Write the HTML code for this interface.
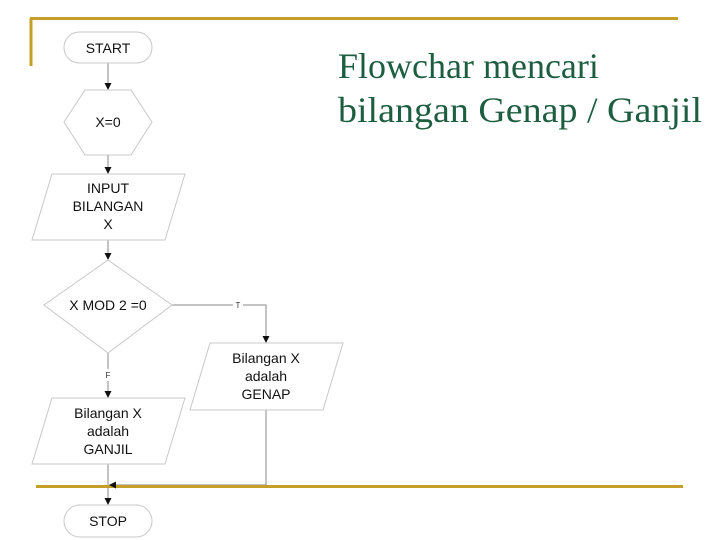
<!DOCTYPE html>
<html><head><meta charset="utf-8"><style>
html,body{margin:0;padding:0;background:#fff;}
svg{display:block;}
.s{fill:#fff;stroke:#c8c8c8;stroke-width:1;}
.l{stroke:#888;stroke-width:1;fill:none;}
.t{font-family:"Liberation Sans",Arial,sans-serif;font-size:14px;fill:#111;text-anchor:middle;}
.a{fill:#111;}
</style></head><body>
<svg width="720" height="540" viewBox="0 0 720 540" xmlns="http://www.w3.org/2000/svg">
<!-- gold decoration -->
<line x1="30" y1="18.5" x2="678" y2="18.5" stroke="#c4a02a" stroke-width="3"/>
<line x1="31" y1="18" x2="31" y2="66" stroke="#c4a02a" stroke-width="3"/>
<!-- title -->
<text x="338" y="78" font-family="'Liberation Serif','Times New Roman',serif" font-size="36" fill="#1e5e40">Flowchar mencari</text>
<text x="338" y="122" font-family="'Liberation Serif','Times New Roman',serif" font-size="36" fill="#1e5e40" textLength="364" lengthAdjust="spacingAndGlyphs">bilangan Genap / Ganjil</text>

<!-- connectors -->
<line class="l" x1="108" y1="63" x2="108" y2="88"/>
<polygon class="a" points="104.5,83 111.5,83 108,90"/>
<line class="l" x1="108" y1="155" x2="108" y2="172"/>
<polygon class="a" points="104.5,167 111.5,167 108,174"/>
<line class="l" x1="108" y1="240" x2="108" y2="258"/>
<polygon class="a" points="104.5,253 111.5,253 108,260"/>
<polyline class="l" points="172,305 266,305 266,341"/>
<polygon class="a" points="262.5,336 269.5,336 266,343"/>
<rect x="233" y="299" width="10" height="12" fill="#fff"/>
<text x="238" y="308" font-family="'Liberation Sans',sans-serif" font-size="8" fill="#333" text-anchor="middle">T</text>
<line class="l" x1="108" y1="353" x2="108" y2="396"/>
<polygon class="a" points="104.5,391 111.5,391 108,398"/>
<rect x="103" y="369" width="10" height="12" fill="#fff"/>
<text x="108" y="378" font-family="'Liberation Sans',sans-serif" font-size="8" fill="#333" text-anchor="middle">F</text>
<line class="l" x1="108" y1="464" x2="108" y2="503"/>
<polygon class="a" points="104.5,498 111.5,498 108,505"/>
<polyline class="l" points="266,410 266,485 110,485"/>

<!-- bottom gold line -->
<line x1="36" y1="486.5" x2="683" y2="486.5" stroke="#c4a02a" stroke-width="3"/>
<polygon class="a" points="109,485 116,481.5 116,488.5"/>

<!-- shapes -->
<rect class="s" x="64" y="32" width="88" height="31" rx="15.5"/>
<text class="t" x="108" y="53">START</text>

<polygon class="s" points="85,90 131,90 152,122 131,155 85,155 64,122"/>
<text class="t" x="108" y="127">X=0</text>

<polygon class="s" points="52,174 185,174 165,240 32,240"/>
<text class="t" x="108" y="193">INPUT</text>
<text class="t" x="108" y="211">BILANGAN</text>
<text class="t" x="108" y="229">X</text>

<polygon class="s" points="108,260 172,305 108,353 44,305"/>
<text class="t" x="108" y="310">X MOD 2 =0</text>

<polygon class="s" points="210,343 343,343 323,410 190,410"/>
<text class="t" x="266" y="363">Bilangan X</text>
<text class="t" x="266" y="381">adalah</text>
<text class="t" x="266" y="399">GENAP</text>

<polygon class="s" points="52,398 185,398 165,464 32,464"/>
<text class="t" x="108" y="418">Bilangan X</text>
<text class="t" x="108" y="436">adalah</text>
<text class="t" x="108" y="454">GANJIL</text>

<rect class="s" x="64" y="505" width="88" height="32" rx="16"/>
<text class="t" x="108" y="526">STOP</text>
</svg>
</body></html>
